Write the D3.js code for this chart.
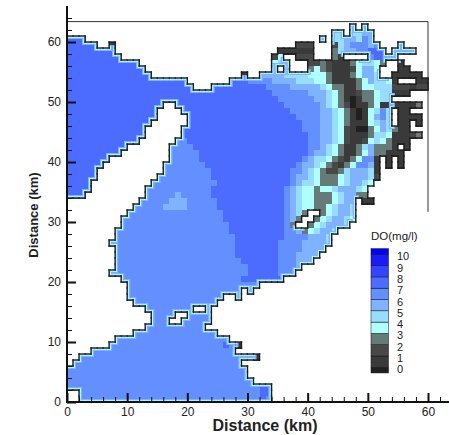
<!DOCTYPE html>
<html>
<head>
<meta charset="utf-8">
<title>DO map</title>
<script src="https://cdn.jsdelivr.net/npm/d3@7"></script>
<style>
html, body { margin: 0; padding: 0; background: #fff; }
text { font-family: "Liberation Sans", Arial, sans-serif; fill: #222; }
</style>
</head>
<body>
<svg id="chart" width="449" height="435"></svg>
<script>
// DO level per 1 km cell. first row is y = 62..63, last row y = 0..1
// each token is level@endColumn, "." is land
var doRows = [
  ".@47 6@48 .@49 5@50",
  ".@44 5@46 .@47 5@49 6@51",
  "8@3 .@42 5@43 .@44 5@46 6@48 5@49 7@50 6@51",
  "8@5 .@7 1@8 .@38 2@41 .@44 2@45 5@46 6@47 7@50 6@51 7@52 .@55 7@56",
  "8@8 .@35 1@41 .@44 3@45 5@46 6@48 7@50 8@53 .@54 7@58",
  "8@9 .@34 2@35 4@36 .@38 2@41 .@44 3@45 1@46 .@50 7@51 8@53 9@55",
  "8@12 .@34 4@35 5@37 .@40 2@42 3@43 2@44 1@47 3@48 4@49 5@51 4@52 3@53 .@55 1@56",
  "8@13 .@34 5@35 .@36 4@37 .@40 3@41 4@42 3@43 2@44 1@47 2@48 4@49 6@51 4@52 .@55 1@57",
  "8@14 .@29 1@30 .@32 6@36 5@40 4@43 3@44 1@47 3@48 4@49 6@51 5@52 .@54 1@59",
  "8@20 .@27 8@30 7@34 6@38 5@41 4@43 3@44 1@48 3@49 4@50 6@51 5@53 4@54 1@55 .@58 1@60",
  "8@21 .@24 8@33 7@37 6@42 5@43 4@44 3@46 1@48 3@49 4@51 5@54 2@57 1@58 2@60",
  "8@34 7@40 6@43 5@44 4@45 3@46 1@48 2@49 3@51 4@52 5@54 1@57",
  "8@35 7@41 6@43 5@44 4@45 3@46 1@47 0@48 1@49 3@51 4@52 5@54",
  "8@16 .@18 8@36 7@42 6@43 5@44 4@45 3@46 2@47 0@48 1@50 3@51 4@52 1@58 3@59",
  "8@15 .@19 8@37 7@42 6@44 5@45 4@46 3@47 1@48 0@49 1@50 4@51 5@52 7@53 5@54 .@55 1@57",
  "8@15 .@20 8@38 7@42 6@44 5@45 4@46 3@47 1@48 0@49 1@50 4@51 6@52 7@53 5@54 .@55 1@59",
  "8@14 .@20 8@39 7@42 6@44 5@45 4@46 3@47 1@50 4@51 5@52 6@53 5@54 .@55 1@57 .@58 1@59",
  "8@13 .@19 8@39 7@42 6@44 5@45 4@46 2@47 1@48 0@50 3@51 4@52 6@53 5@54 3@55 1@57",
  "8@13 .@19 8@40 7@42 6@44 5@45 4@46 2@47 1@50 3@51 5@53 4@54 1@57 2@58 3@59",
  "8@12 .@18 7@20 8@40 7@42 6@44 5@45 4@46 2@47 1@49 2@50 4@51 5@52 4@53 3@54 1@57",
  "8@10 .@17 7@21 8@40 7@42 6@43 5@44 4@45 3@46 1@48 3@49 5@50 6@51 3@54 1@55 .@56 1@57",
  "8@9 .@17 7@22 8@40 7@41 6@43 5@44 4@45 3@46 1@48 3@49 4@50 6@51 3@53 1@56",
  "8@7 .@17 7@22 8@39 7@40 6@41 5@43 4@44 3@45 2@46 1@47 3@48 4@49 7@51 1@52 .@53 1@54 .@55 1@56",
  "8@6 .@16 7@23 8@38 7@39 6@41 5@42 4@43 3@44 2@45 1@46 3@47 4@48 7@50 6@51 1@52 .@53 1@54 .@55 1@56",
  "8@5 .@16 7@24 8@37 7@39 6@40 5@41 4@42 3@43 2@45 3@46 5@47 6@50 5@51 1@52",
  "8@5 .@15 7@24 8@37 7@38 6@40 5@41 4@42 3@45 4@46 5@47 6@50 5@51 2@52",
  "8@4 .@14 7@25 8@37 7@38 6@39 5@41 4@42 3@45 4@46 5@47 6@49 5@50 4@51",
  "8@4 .@13 7@24 8@36 7@37 6@38 5@39 4@41 3@42 4@44 5@45 6@48 5@49 4@50",
  "8@3 .@13 7@18 6@19 7@24 8@36 7@37 6@38 5@39 4@41 3@44 4@45 5@46 6@48 3@50",
  ".@12 7@17 6@20 7@25 8@36 7@37 6@38 5@39 4@41 3@44 4@45 5@46 6@48 .@49 1@51",
  ".@11 7@16 6@20 7@25 8@36 7@37 6@38 5@39 4@41 3@43 4@44 5@45 6@47 5@48",
  ".@10 7@26 8@36 7@37 6@38 5@39 3@40 .@42 3@43 4@44 5@45 6@47 5@48",
  ".@9 7@26 8@36 7@37 6@38 3@39 .@41 3@42 4@43 5@44 6@46 5@47 4@48",
  ".@9 7@27 8@36 7@37 3@38 .@40 3@41 4@42 5@43 6@46 5@47",
  ".@8 7@27 8@36 7@38 6@39 3@40 4@41 5@42 6@44 5@45",
  ".@8 7@28 8@36 7@40 6@43 5@44",
  ".@7 7@28 8@35 7@39 6@43 5@44",
  ".@8 7@28 8@35 7@39 6@43",
  ".@8 7@28 8@35 7@38 6@42",
  ".@8 7@29 8@35 7@38 6@41",
  ".@8 7@30 8@35 7@38 6@39",
  ".@7 7@30 8@35 7@38",
  ".@9 7@29 8@36",
  ".@10 7@32",
  ".@10 7@29 .@30 7@31",
  ".@10 7@26 .@28 7@29",
  ".@11 7@25",
  ".@13 7@21 .@23 7@24",
  ".@14 7@18 .@20 7@24",
  ".@14 7@17 .@19 7@24",
  ".@13 7@23",
  ".@11 7@25",
  ".@8 7@27",
  ".@7 7@26 8@27 7@28 1@29",
  ".@4 7@28",
  ".@2 7@30 5@31 1@32",
  ".@1 7@29",
  "7@30",
  "7@30",
  "7@31",
  "7@32 8@34",
  ".@2 7@32 8@34",
  ".@2 7@32 8@33 7@34"
];

var levelColors = ["#202020", "#3a3a3a", "#484848", "#667a78", "#b0ffff", "#98dcff", "#7fb2ff", "#6490ff", "#4c6cff", "#3344ff", "#1a1aff", "#0000ff"];
var legendEdges = [-0.5, 0, 1, 2, 3, 4, 5, 6, 7, 8, 9, 10, 10.5];
var legendTicks = [0, 1, 2, 3, 4, 5, 6, 7, 8, 9, 10];
var majorTicks = [0, 10, 20, 30, 40, 50, 60];
var minorTicks = [2, 4, 6, 8, 12, 14, 16, 18, 22, 24, 26, 28, 32, 34, 36, 38, 42, 44, 46, 48, 52, 54, 56, 58, 62, 64];

var svg = d3.select("#chart");
var x = d3.scaleLinear().domain([0, 60]).range([67, 428]);
var y = d3.scaleLinear().domain([0, 60]).range([402, 42]);
var legendY = d3.scaleLinear().domain([0, 10]).range([367.3, 254.3]);

// unpack the rows to a lookup of wet cells
var cells = [];
var wet = {};
doRows.forEach(function(row, i) {
    var k = doRows.length - 1 - i;
    var start = 0;
    row.split(" ").forEach(function(tok) {
        var parts = tok.split("@");
        var end = +parts[1];
        if (parts[0] !== ".") {
            d3.range(start, end).forEach(function(c) {
                cells.push({c: c, k: k, level: +parts[0]});
                wet[c + "_" + k] = +parts[0];
            });
        }
        start = end;
    });
});

// land/water edges, these carry the outline
var edges = [];
cells.forEach(function(d) {
    var sides = [
        [d.c, d.k + 1, d.c + 1, d.k + 1, d.c, d.k + 1],
        [d.c, d.k, d.c + 1, d.k, d.c, d.k - 1],
        [d.c, d.k, d.c, d.k + 1, d.c - 1, d.k],
        [d.c + 1, d.k, d.c + 1, d.k + 1, d.c + 1, d.k]
    ];
    sides.forEach(function(s) {
        if (s[4] < 0) return;
        if (wet[s[4] + "_" + s[5]] === undefined) {
            edges.push({x1: s[0], y1: s[1], x2: s[2], y2: s[3], level: d.level});
        }
    });
});

svg.append("clipPath").attr("id", "water").selectAll("rect")
    .data(cells).enter().append("rect")
    .attr("x", function(d) { return x(d.c); })
    .attr("y", function(d) { return y(d.k + 1); })
    .attr("width", x(1) - x(0))
    .attr("height", y(0) - y(1));

svg.append("g").attr("shape-rendering", "crispEdges").selectAll("rect")
    .data(cells).enter().append("rect")
    .attr("x", function(d) { return x(d.c); })
    .attr("y", function(d) { return y(d.k + 1); })
    .attr("width", x(1) - x(0) + 0.5)
    .attr("height", y(0) - y(1) + 0.5)
    .attr("fill", function(d) { return levelColors[d.level]; });

function drawEdges(list, color, width, clipped) {
    var g = svg.append("g");
    if (clipped) g.attr("clip-path", "url(#water)");
    g.selectAll("line").data(list).enter().append("line")
        .attr("x1", function(d) { return x(d.x1); })
        .attr("y1", function(d) { return y(d.y1); })
        .attr("x2", function(d) { return x(d.x2); })
        .attr("y2", function(d) { return y(d.y2); })
        .attr("stroke", color)
        .attr("stroke-width", width)
        .attr("stroke-linecap", "square");
}

var lightEdges = edges.filter(function(d) { return d.level >= 5; });
drawEdges(lightEdges, levelColors[6], 6, true);
drawEdges(lightEdges, levelColors[4], 3.5, true);
drawEdges(edges, "#1c1c1c", 1.4, false);

// thin frame on top and on the right
svg.append("path")
    .attr("d", d3.line()([[x(0), y(63.4)], [x(60), y(63.4)], [x(60), y(31.7)]]))
    .attr("fill", "none")
    .attr("stroke", "#333")
    .attr("stroke-width", 1);

var xAxisMajor = d3.axisBottom(x).tickValues(majorTicks).tickSize(-9).tickSizeOuter(0).tickPadding(5);
var xAxisMinor = d3.axisBottom(x).tickValues(minorTicks).tickSize(-5).tickSizeOuter(0).tickFormat("");
var yAxisMajor = d3.axisLeft(y).tickValues(majorTicks).tickSize(-9).tickSizeOuter(0).tickPadding(6);
var yAxisMinor = d3.axisLeft(y).tickValues(minorTicks).tickSize(-5).tickSizeOuter(0).tickFormat("");

function styleAxis(g, w) {
    g.select(".domain").remove();
    g.selectAll("line").attr("stroke", "#111").attr("stroke-width", w);
    g.selectAll("text").attr("font-size", 12).style("fill", "#222");
}

svg.append("g").attr("transform", "translate(0," + y(0) + ")").call(xAxisMinor).call(styleAxis, 1);
svg.append("g").attr("transform", "translate(0," + y(0) + ")").call(xAxisMajor).call(styleAxis, 2);
svg.append("g").attr("transform", "translate(" + x(0) + ",0)").call(yAxisMinor).call(styleAxis, 1);
svg.append("g").attr("transform", "translate(" + x(0) + ",0)").call(yAxisMajor).call(styleAxis, 2);

// long axis lines run past the ticks
svg.append("path")
    .attr("d", d3.line()([[x(0), y(66)], [x(0), y(0)], [x(63.7), y(0)]]))
    .attr("fill", "none")
    .attr("stroke", "#111")
    .attr("stroke-width", 2);

svg.append("text")
    .attr("x", 265).attr("y", 431)
    .attr("text-anchor", "middle")
    .attr("font-size", 16).attr("font-weight", "bold")
    .text("Distance (km)");

svg.append("text")
    .attr("transform", "translate(38,215) rotate(-90)")
    .attr("text-anchor", "middle")
    .attr("font-size", 13).attr("font-weight", "bold")
    .text("Distance (km)");

// legend
var bands = d3.pairs(legendEdges);
svg.append("g").selectAll("rect")
    .data(bands).enter().append("rect")
    .attr("x", 371)
    .attr("width", 17.5)
    .attr("y", function(d) { return legendY(d[1]); })
    .attr("height", function(d) { return legendY(d[0]) - legendY(d[1]); })
    .attr("fill", function(d, i) { return levelColors[i]; })
    .attr("stroke", "#111")
    .attr("stroke-width", 0.5);

svg.append("g").selectAll("text")
    .data(legendTicks).enter().append("text")
    .attr("x", 397)
    .attr("y", function(d) { return legendY(d) + 6; })
    .attr("font-size", 11)
    .text(function(d) { return d; });

svg.append("text")
    .attr("x", 371).attr("y", 240)
    .attr("font-size", 11.5)
    .text("DO(mg/l)");
</script>
</body>
</html>
